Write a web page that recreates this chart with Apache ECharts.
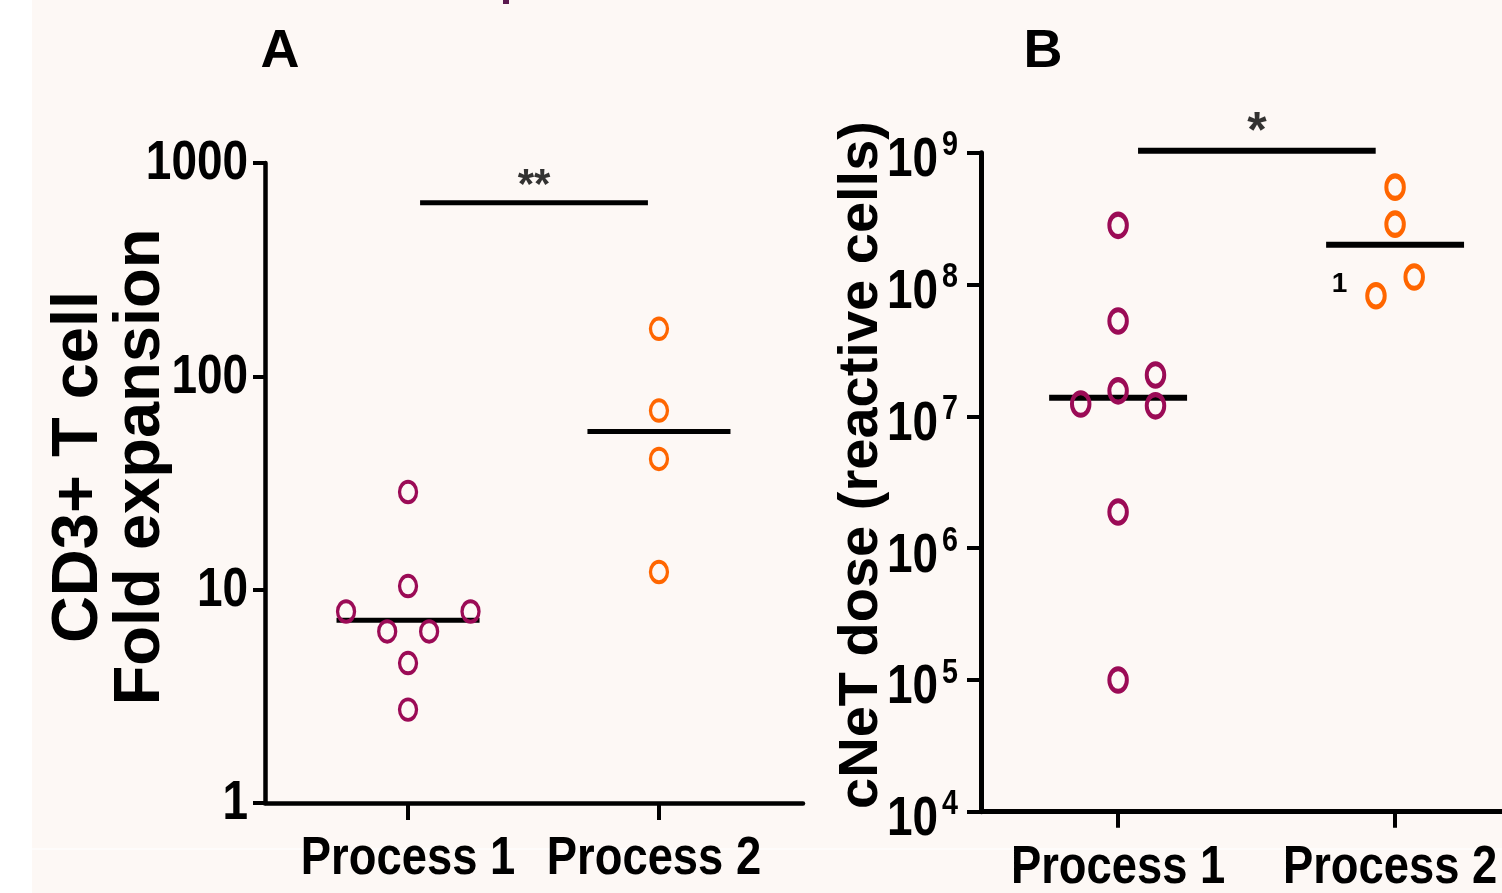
<!DOCTYPE html>
<html>
<head>
<meta charset="utf-8">
<script src="https://cdn.jsdelivr.net/npm/echarts@6/dist/echarts.min.js"></script>
<style>
  html, body { margin: 0; padding: 0; background: #fdf8f5; }
  #chart { width: 1502px; height: 893px; }
</style>
</head>
<body>
<div id="chart"></div>
<script>
// ---------------- DATA ----------------
const categories = ['Process 1', 'Process 2'];
// Panel A: CD3+ T cell fold expansion
const foldP1 = [28.7, 10.4, 7.9, 7.9, 6.37, 6.37, 4.53, 2.74];
const foldP2 = [167, 69.1, 41.0, 12.1];
const foldMedian = [7.18, 55.1];
const foldTicks = [1, 10, 100, 1000];
// Panel B: cNeT dose (reactive cells)
const doseP1 = [2.81e8, 5.29e7, 2.06e7, 1.56e7, 1.24e7, 1.20e7, 1.88e6, 9.98e4];
const doseP2 = [5.48e8, 2.87e8, 1.14e8, 8.22e7];
const doseP2Notes = ['', '', '', '1'];
const doseMedian = [1.38e7, 2.0e8];
const doseTickExponents = [4, 5, 6, 7, 8, 9];
// Significance annotations
const sigLabels = ['**', '*'];
const sigLevels = [652, 1.035e9];
const panelLabels = ['A', 'B'];
const yTitles = ['CD3+ T cell\nFold expansion', 'cNeT dose (reactive cells)'];

// ---------------- LAYOUT ----------------
const JIT_A1 = [0, 0, -0.247, 0.249, -0.083, 0.084, 0, 0];
const JIT_A2 = [0, 0, 0, 0];
const JIT_B1 = [0, 0, 0.135, 0, -0.135, 0.135, 0, 0];
const JIT_B2 = [0, 0, 0.069, -0.069];
const MED_HW = [0.285, 0.249];
const SIG_SPAN = [[1.048, 1.956], [1.072, 1.930]];
const X_EXT = [[0.43, 2.574], [0.505, 2.386]];
const CAT_LABEL_DX = [0, -5];
const PURPLE = '#9b0b56';
const ORANGE = '#ff6600';
const SANS = "'Liberation Sans', Arial, sans-serif";
const NARROW_SCALE = 0.82;
const CAT_SCALE = 0.84;

function scatter(g, cat, vals, jit, color, size, bw, notes) {
  return {
    type: 'scatter', xAxisIndex: g, yAxisIndex: g, z: 4, silent: true,
    symbol: 'circle', symbolSize: size,
    itemStyle: { color: 'transparent', borderColor: color, borderWidth: bw, opacity: 1 },
    data: vals.map((v, i) => {
      const item = { value: [cat + 1 + jit[i], v] };
      if (notes && notes[i]) {
        item.label = {
          show: true, formatter: notes[i], position: 'left', distance: 18,
          offset: [0, -11], color: '#000', fontFamily: SANS, fontWeight: 'bold', fontSize: 28
        };
      }
      return item;
    })
  };
}
function medianLine(g, cat, m, hw, w) {
  return {
    type: 'line', xAxisIndex: g, yAxisIndex: g, z: 3, silent: true, symbol: 'none',
    lineStyle: { color: '#000', width: w, cap: 'butt' },
    data: [[cat + 1 - hw, m], [cat + 1 + hw, m]]
  };
}
function sigBar(g, w) {
  return {
    type: 'line', xAxisIndex: g, yAxisIndex: g, z: 3, silent: true, symbol: 'none', clip: false,
    lineStyle: { color: '#000', width: w, cap: 'butt' },
    data: [[SIG_SPAN[g][0], sigLevels[g]], [SIG_SPAN[g][1], sigLevels[g]]]
  };
}
function sigStar(g, fs, dy) {
  return {
    type: 'scatter', xAxisIndex: g, yAxisIndex: g, z: 5, silent: true, clip: false,
    symbol: 'circle', symbolSize: 1, itemStyle: { color: 'rgba(0,0,0,0)' },
    label: { show: true, position: 'inside', formatter: sigLabels[g], offset: [0, dy],
      color: '#000', fontFamily: SANS, fontWeight: 'bold', fontSize: fs },
    data: [[(SIG_SPAN[g][0] + SIG_SPAN[g][1]) / 2, sigLevels[g]]]
  };
}
const xAxisDef = (g, tickLen, lw) => ({
  gridIndex: g, type: 'value', min: X_EXT[g][0], max: X_EXT[g][1],
  axisLine: { show: true, onZero: false, lineStyle: { color: '#000', width: lw } },
  axisTick: { show: true, customValues: [1, 2], length: tickLen, lineStyle: { color: '#000', width: 4 } },
  axisLabel: { show: false },
  splitLine: { show: false }
});
const yAxisDef = (g, min, max, tickLen, lw) => ({
  gridIndex: g, type: 'log', logBase: 10, min: min, max: max,
  axisLine: { show: true, lineStyle: { color: '#000', width: lw } },
  axisTick: { show: true, length: tickLen, lineStyle: { color: '#000', width: 4 } },
  axisLabel: { show: false },
  splitLine: { show: false }
});

const baseGraphics = [
  { type: 'rect', shape: { x: 0, y: 0, width: 32, height: 893 }, style: { fill: '#ffffff' }, silent: true },
  { type: 'rect', shape: { x: 32, y: 848, width: 1470, height: 2 }, style: { fill: '#fefcfb' }, silent: true },
  { type: 'rect', shape: { x: 503, y: 0, width: 6, height: 4 }, style: { fill: '#5b1a4f' }, silent: true },
  { type: 'text', x: 280, y: 52, style: { text: panelLabels[0], font: 'bold 54px ' + SANS, fill: '#000',
      align: 'center', verticalAlign: 'middle', textAlign: 'center', textVerticalAlign: 'middle' } },
  { type: 'text', x: 1043, y: 52, style: { text: panelLabels[1], font: 'bold 54px ' + SANS, fill: '#000',
      align: 'center', verticalAlign: 'middle', textAlign: 'center', textVerticalAlign: 'middle' } },
  { type: 'text', x: 110, y: 467, rotation: Math.PI / 2,
    style: { text: yTitles[0], font: 'bold 65px ' + SANS, fill: '#000', lineHeight: 62,
      align: 'center', verticalAlign: 'middle', textAlign: 'center', textVerticalAlign: 'middle' } },
  { type: 'text', x: 862, y: 465, rotation: Math.PI / 2,
    style: { text: yTitles[1], font: 'bold 56px ' + SANS, fill: '#000',
      align: 'center', verticalAlign: 'middle', textAlign: 'center', textVerticalAlign: 'middle' } }
];

const chart = echarts.init(document.getElementById('chart'), null, { renderer: 'canvas' });
chart.setOption({
  backgroundColor: '#fdf8f5',
  animation: false,
  grid: [
    { left: 265, top: 163, width: 538, height: 640, outerBoundsMode: 'none', containLabel: false },
    { left: 981, top: 152.7, width: 521, height: 659, outerBoundsMode: 'none', containLabel: false }
  ],
  xAxis: [ xAxisDef(0, 17, 4.5), xAxisDef(1, 16, 5) ],
  yAxis: [
    yAxisDef(0, foldTicks[0], foldTicks[foldTicks.length - 1], 12, 4.5),
    yAxisDef(1, Math.pow(10, doseTickExponents[0]), Math.pow(10, doseTickExponents[doseTickExponents.length - 1]), 14, 5)
  ],
  graphic: baseGraphics,
  series: [
    medianLine(0, 0, foldMedian[0], MED_HW[0], 5),
    medianLine(0, 1, foldMedian[1], MED_HW[0], 5),
    scatter(0, 0, foldP1, JIT_A1, PURPLE, [17, 20.5], 3.6),
    scatter(0, 1, foldP2, JIT_A2, ORANGE, [17, 20.5], 3.6),
    sigBar(0, 5),
    sigStar(0, 42, -16),
    medianLine(1, 0, doseMedian[0], MED_HW[1], 6),
    medianLine(1, 1, doseMedian[1], MED_HW[1], 6),
    scatter(1, 0, doseP1, JIT_B1, PURPLE, [17.5, 22.5], 4.5),
    scatter(1, 1, doseP2, JIT_B2, ORANGE, [17.5, 22.5], 4.5, doseP2Notes),
    sigBar(1, 6),
    sigStar(1, 50, -18)
  ]
});

// Axis labels drawn as condensed (horizontally scaled) text positioned through the axes' scales
function label(text, x, y, size, align, sx) {
  return { type: 'text', x: x, y: y, scaleX: sx || NARROW_SCALE, scaleY: 1, silent: true,
    style: { text: text, font: 'bold ' + size + 'px ' + SANS, fill: '#000',
      align: align, verticalAlign: 'middle', textAlign: align, textVerticalAlign: 'middle' } };
}
const labels = [];
foldTicks.forEach(t => {
  const p = chart.convertToPixel({ xAxisIndex: 0, yAxisIndex: 0 }, [X_EXT[0][0], t]);
  labels.push(label(String(t), p[0] - 17, p[1] + 1, 56, 'right'));
});
doseTickExponents.forEach(e => {
  const p = chart.convertToPixel({ xAxisIndex: 1, yAxisIndex: 1 }, [X_EXT[1][0], Math.pow(10, e)]);
  labels.push(label('10', p[0] - 43, p[1] + 8, 56, 'right'));
  labels.push(label(String(e), p[0] - 23, p[1] - 7, 35, 'right'));
});
categories.forEach((c, i) => {
  const pa = chart.convertToPixel({ xAxisIndex: 0, yAxisIndex: 0 }, [i + 1, foldTicks[0]]);
  labels.push(label(c, pa[0] + CAT_LABEL_DX[i], pa[1] + 56, 54, 'center', CAT_SCALE));
  const pb = chart.convertToPixel({ xAxisIndex: 1, yAxisIndex: 1 }, [i + 1, Math.pow(10, doseTickExponents[0])]);
  labels.push(label(c, pb[0] + CAT_LABEL_DX[i], pb[1] + 56, 54, 'center', CAT_SCALE));
});
chart.setOption({ graphic: baseGraphics.concat(labels) });
</script>
</body>
</html>
